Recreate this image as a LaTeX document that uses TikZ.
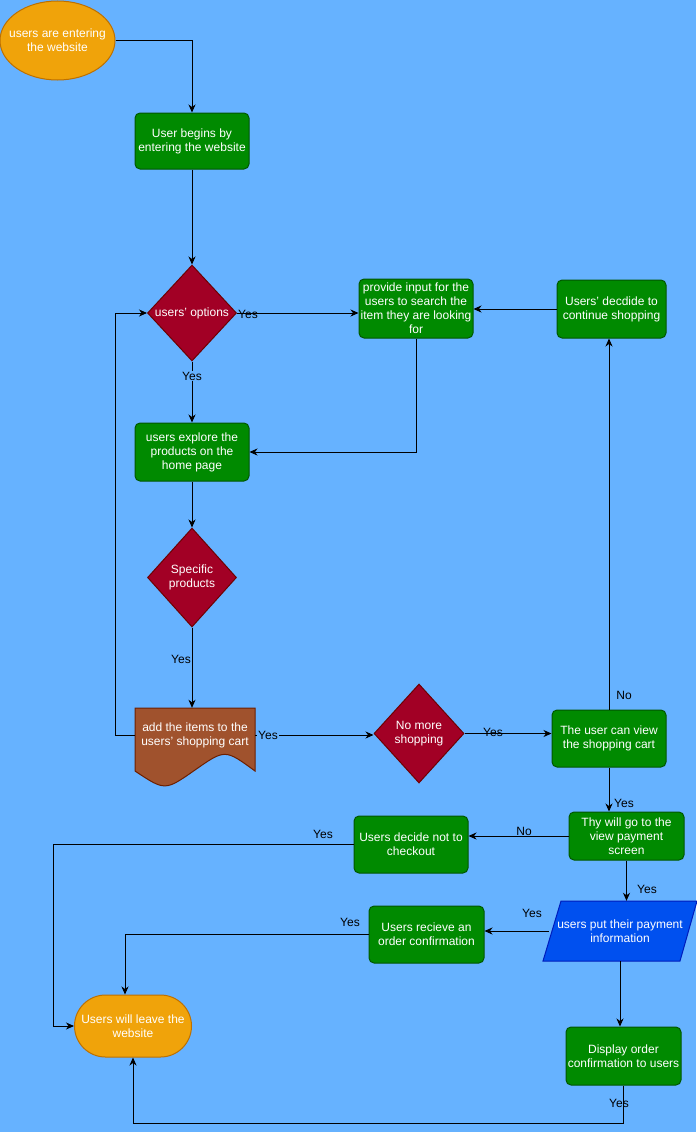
\documentclass[tikz,border=0pt]{standalone}
\usepackage{fontspec}
\setmainfont{Liberation Sans}
\usetikzlibrary{shapes.geometric,arrows.meta,calc}
\definecolor{bg}{RGB}{102,178,255}
\definecolor{procfill}{RGB}{0,138,0}
\definecolor{procedge}{RGB}{0,87,0}
\definecolor{decfill}{RGB}{162,0,37}
\definecolor{decedge}{RGB}{111,0,0}
\definecolor{termfill}{RGB}{240,163,10}
\definecolor{termedge}{RGB}{189,112,0}
\definecolor{docfill}{RGB}{160,82,45}
\definecolor{docedge}{RGB}{109,31,0}
\definecolor{iofill}{RGB}{0,80,239}
\definecolor{ioedge}{RGB}{0,29,188}
\tikzset{
  txt/.style={font=\fontsize{12}{14}\selectfont},
  proc/.style={txt, draw=procedge, fill=procfill, rounded corners=5pt, text=white,
    align=center, inner sep=1pt, line width=1pt},
  decision/.style={diamond, draw=decedge, fill=decfill, inner sep=0pt, line width=1pt},
  dtext/.style={txt, text=white, align=center},
  term/.style={txt, draw=termedge, fill=termfill, text=white, align=center,
    inner sep=1pt, line width=1pt},
  anchorbox/.style={txt, text=white, align=center, inner sep=0pt},
  conn/.style={draw=black, line width=0.9pt, -{Stealth[length=8pt,width=7pt,inset=2.5pt]}},
  elabel/.style={txt, text=black, inner sep=1pt},
}
\begin{document}
\begin{tikzpicture}[x=1pt,y=-1pt]
\useasboundingbox[fill=bg] (0,0) rectangle (696,1132);

% start and end terminals
\node[term, ellipse, inner sep=0pt, minimum width=115pt, minimum height=79pt,
  label={[dtext]center:users are entering\\the website}] (start) at (57.5,40.5) {};
\node[term, rectangle, rounded corners=31pt, minimum width=117pt, minimum height=62pt] (leave)
  at (133,1026) {Users will leave the\\website};

% process boxes
\node[proc, minimum width=114pt, minimum height=56pt] (begin) at (192,141)
  {User begins by\\entering the website};
\node[proc, minimum width=114pt, minimum height=59pt] (prov) at (416,308.5)
  {provide input for the\\users to search the\\item they are looking\\for};
\node[proc, minimum width=109pt, minimum height=58pt] (cont) at (611.5,309)
  {Users' decdide to\\continue shopping};
\node[proc, minimum width=114pt, minimum height=58pt] (expl) at (192,452)
  {users explore the\\products on the\\home page};
\node[proc, minimum width=114pt, minimum height=57pt] (view) at (609,738.5)
  {The user can view\\the shopping cart};
\node[proc, minimum width=115pt, minimum height=48pt] (pay) at (626.5,836)
  {Thy will go to the\\view payment\\screen};
\node[proc, minimum width=114pt, minimum height=57pt] (notck) at (411,844.5)
  {Users decide not to\\checkout};
\node[proc, minimum width=115pt, minimum height=57pt] (recv) at (426.5,934.5)
  {Users recieve an\\order confirmation};
\node[proc, minimum width=115pt, minimum height=58pt] (disp) at (623.5,1056)
  {Display order\\confirmation to users};

% decisions
\node[decision, minimum width=89pt, minimum height=96pt,
  label={[dtext]center:users' options}] (opt) at (192,313) {};
\node[decision, minimum width=89pt, minimum height=99pt,
  label={[dtext]center:Specific\\products}] (spec) at (192,577.5) {};
\node[decision, minimum width=90pt, minimum height=99pt,
  label={[dtext]center:No more\\shopping}] (nomore) at (419,733.5) {};

% document shape: add to cart
\draw[draw=docedge, fill=docfill, line width=1pt]
  (135,708) -- (255,708) -- (255,771)
  .. controls (225,749) .. (195,770)
  .. controls (165,791) .. (135,771) -- cycle;
\node[anchorbox, minimum width=120pt, minimum height=54pt] (cart) at (195,735)
  {add the items to the\\users' shopping cart};

% input/output: payment information
\draw[draw=ioedge, fill=iofill, line width=1pt]
  (561,901) -- (697,901) -- (680,961) -- (543,961) -- cycle;
\node[anchorbox, minimum width=142pt, minimum height=60pt] (info) at (620,931)
  {users put their payment\\information};

% connectors
\draw[conn] (start.east) -| (begin.north);
\draw[conn] (begin.south) -- (opt.north);
\draw[conn] (opt.east) -- (opt.east -| prov.west);
\draw[conn] (cont.west) -- (cont.west -| prov.east);
\draw[conn] (opt.south) -- (expl.north);
\draw[conn] (prov.south) |- (expl.east);
\draw[conn] (expl.south) -- (spec.north);
\draw[conn] (spec.south) -- (spec.south |- cart.north);
\draw[conn] (cart.west) -- ++(-19,0) |- (opt.west);
\draw[conn] (cart.east) -- (cart.east -| nomore.west);
\draw[conn] (nomore.east) -- (nomore.east -| view.west);
\draw[conn] (view.north) -- (view.north |- cont.south);
\draw[conn] (view.south) -- (view.south |- pay.north);
\draw[conn] (pay.west) -- (pay.west -| notck.east);
\draw[conn] (notck.west) -- ++(-300,0) |- (leave.west);
\draw[conn] (pay.south) -- (pay.south |- info.north);
\draw[conn] (info.west) -- (info.west -| recv.east);
\draw[conn] (recv.west) -| ([xshift=-8pt]leave.north);
\draw[conn] (info.south) -- (info.south |- disp.north);
\draw[conn] (disp.south) -- ++(0,38) -| (leave.south);

% connector labels
\node[elabel, anchor=west] at (237,314) {Yes};
\node[elabel, fill=bg] at (192,376) {Yes};
\node[elabel] at (181,659) {Yes};
\node[elabel, fill=bg, anchor=west] at (257,735) {Yes};
\node[elabel] at (493,732) {Yes};
\node[elabel] at (624,695) {No};
\node[elabel] at (624,803) {Yes};
\node[elabel] at (524,831) {No};
\node[elabel] at (323,834) {Yes};
\node[elabel] at (647,889) {Yes};
\node[elabel] at (532,913) {Yes};
\node[elabel] at (350,922) {Yes};
\node[elabel] at (619,1103) {Yes};
\end{tikzpicture}
\end{document}
